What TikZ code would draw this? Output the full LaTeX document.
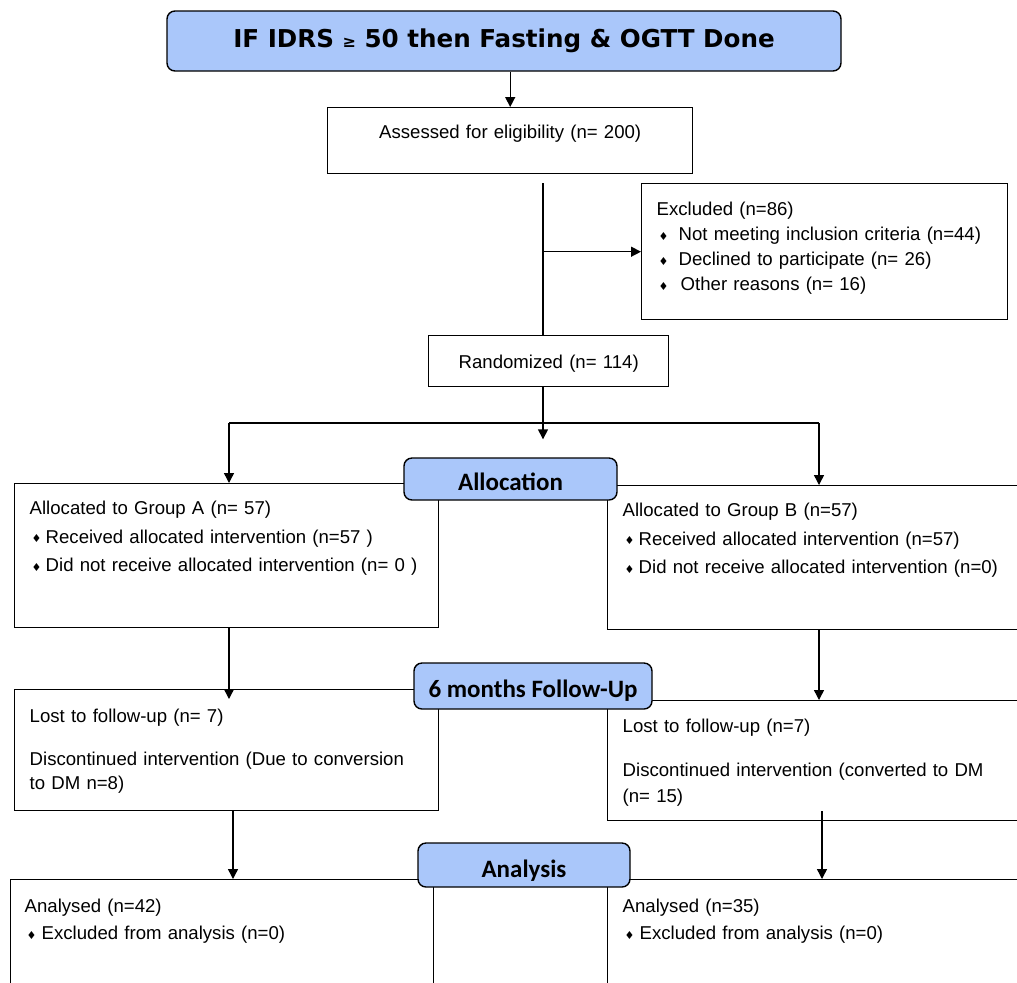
\documentclass[tikz,border=0pt]{standalone}
\usepackage{fontspec}
\setmainfont{Liberation Sans}
\newfontfamily\headfont{DejaVu Sans}
\newfontfamily\stagefont{Carlito}
\newfontfamily\symfont{DejaVu Sans}
\usetikzlibrary{arrows.meta}
\definecolor{stageblue}{RGB}{170,199,250}
\newcommand{\bul}[1][8pt]{\makebox[#1][l]{\hspace{1pt}\raisebox{0.2pt}{\symfont\fontsize{5.5}{5}\selectfont ♦}}}

\begin{document}
\begin{tikzpicture}[
    x=0.5pt, y=-0.5pt,
    line width=0.7pt,
    box/.style={draw, rectangle, anchor=north west, inner xsep=7.5pt, inner ysep=0pt,
      align=left, font=\fontsize{9.3}{12}\selectfont},
    centre box/.style={box, inner xsep=0pt, align=center},
    stage/.style={draw, rounded corners=4pt, fill=stageblue, inner sep=0pt,
      font=\stagefont\bfseries\fontsize{12.5}{14}\selectfont},
    pile/.style={-{Triangle[length=5pt,width=5pt]}}
    ]
\useasboundingbox (0,0) rectangle (1017,982);
\clip (0,0) rectangle (1017,982);

% boxes
\node[centre box, text width=182.5pt, text height=15.5pt, text depth=17.5pt] (assess) at (327,107) {Assessed for eligibility (n= 200)};
\node[box, text width=168pt, text height=16pt, text depth=52pt] (excl) at (641,183) {Excluded (n=86)\\[0.5pt]
\bul[11pt]Not meeting inclusion criteria (n=44)\\[0.5pt]
\bul[11pt]Declined to participate (n= 26)\\[0.5pt]
\bul[12pt]Other reasons (n= 16)};
\node[centre box, text width=120pt, text height=16.5pt, text depth=9pt] (rand) at (428,335) {Randomized (n= 114)};

\node[box, text width=197pt, text height=15.5pt, text depth=56.5pt] (groupA) at (14,483) {Allocated to Group A (n= 57)\\[2.25pt]
\bul Received allocated intervention (n=57 )\\[2.25pt]
\bul Did not receive allocated intervention (n= 0 )};
\node[box, text width=205pt, text height=15.5pt, text depth=56.5pt] (groupB) at (607,485) {Allocated to Group B (n=57)\\[2.25pt]
\bul Received allocated intervention (n=57)\\[2.25pt]
\bul Did not receive allocated intervention (n=0)};

\node[box, text width=197pt, text height=16.5pt, text depth=44pt] (followA) at (14,689) {Lost to follow-up (n= 7)\\[9.5pt]
Discontinued intervention (Due to conversion\\
to DM n=8)};
\node[box, text width=205pt, text height=16pt, text depth=44pt] (followB) at (607,700) {Lost to follow-up (n=7)\\[10pt]
Discontinued intervention (converted to DM\\[1pt]
(n= 15)};

\node[box, inner xsep=7pt, text width=197.5pt, text height=16.5pt, text depth=53.5pt] (anaA) at (10,879) {Analysed (n=42)\\[1.5pt]
\bul[8.5pt]Excluded from analysis (n=0)};
\node[box, text width=205pt, text height=16.5pt, text depth=53.5pt] (anaB) at (607,879) {Analysed (n=35)\\[1.5pt]
\bul[8.5pt]Excluded from analysis (n=0)};

% stage labels
\node[stage, font=\headfont\bfseries\fontsize{12.3}{14}\selectfont, minimum width=337pt, text height=18pt, text depth=12pt] (title) at (504,41) {IF IDRS {\fontsize{8}{8}\selectfont ≥} 50 then Fasting \& OGTT Done};
\node[stage, minimum width=106.5pt, text height=16pt, text depth=5pt] (alloc) at (510.5,479) {Allocation};
\node[stage, minimum width=119pt, text height=17pt, text depth=6pt] (follow) at (533,686) {6 months Follow-Up};
\node[stage, minimum width=106pt, text height=17pt, text depth=5pt] (analysis) at (524,865) {Analysis};

% connectors
\coordinate (trunk) at (543,183);
\coordinate (splitA) at (229,423);
\coordinate (splitB) at (819,423);
\coordinate (dropA) at (233,0);
\coordinate (dropB) at (822,0);

\draw[pile] (assess.north |- title.south) -- (assess.north);
\draw (trunk) -- (trunk |- rand.north);
\draw[pile] (trunk |- excl.west) -- (excl.west);
\draw[pile, shorten >=9pt] (trunk |- rand.south) -- (trunk |- alloc.north);
\draw (splitA) -- (splitB);
\draw[pile] (splitA) -- (splitA |- groupA.north);
\draw[pile] (splitB) -- (splitB |- groupB.north);
\draw[pile, shorten >=-5pt] (splitA |- groupA.south) -- (splitA |- followA.north);
\draw[pile] (splitB |- groupB.south) -- (splitB |- followB.north);
\draw[pile] (dropA |- followA.south) -- (dropA |- anaA.north);
\draw[pile, shorten <=-5pt] (dropB |- followB.south) -- (dropB |- anaB.north);
\end{tikzpicture}
\end{document}
